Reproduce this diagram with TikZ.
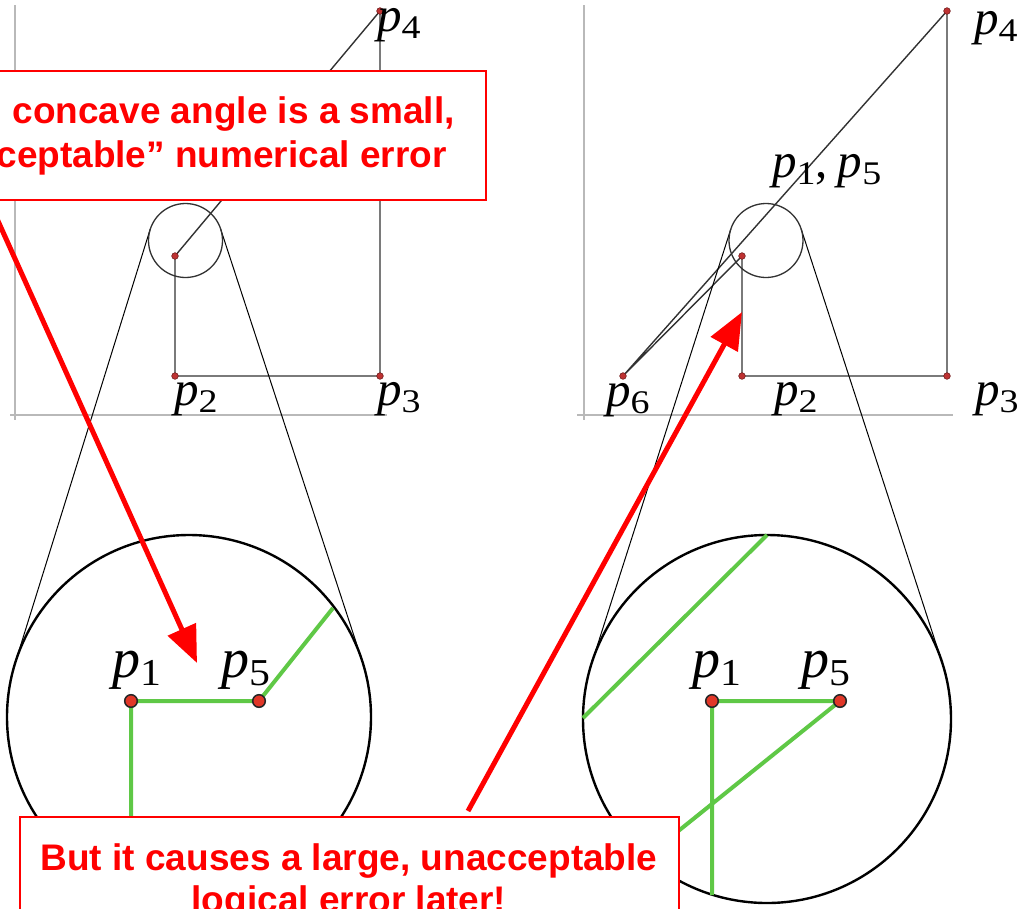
\documentclass[tikz,border=0pt]{standalone}
\usepackage{fontspec}
\setmainfont{Liberation Sans}
\newfontfamily\lblfont{Liberation Serif}
\usetikzlibrary{arrows.meta}
\definecolor{axisgray}{RGB}{185,185,185}
\definecolor{edgegray}{RGB}{50,50,50}
\definecolor{okgreen}{RGB}{95,200,70}
\definecolor{dotred}{RGB}{225,55,40}
\definecolor{smalldot}{RGB}{190,50,50}
\definecolor{calloutred}{RGB}{255,0,0}
\newcommand\toplab[1]{{\fontsize{49}{49}\selectfont\lblfont\itshape p}\raisebox{-7pt}{\scalebox{1.15}[1]{\fontsize{33}{33}\selectfont\lblfont #1}}}
\newcommand\biglab[1]{{\fontsize{56}{56}\selectfont\lblfont\itshape p}\raisebox{-8pt}{\scalebox{1.1}[1]{\fontsize{38}{38}\selectfont\lblfont #1}}}
\begin{document}
\begin{tikzpicture}[x=1pt,y=-1pt,
  axis/.style={draw=axisgray, line width=1.8pt},
  edge/.style={draw=edgegray, line width=1.4pt},
  tangent/.style={draw=black, line width=1pt},
  lens/.style={draw=edgegray, line width=1.3pt},
  zoomcircle/.style={draw=black, line width=2.4pt},
  greenseg/.style={draw=okgreen, line width=4pt},
  smallpt/.style={fill=smalldot, draw=smalldot!60!black, line width=0.6pt},
  bigpt/.style={fill=dotred, draw=black!85, line width=1.5pt},
  lbl/.style={inner sep=0pt, anchor=base west},
  callout/.style={draw=calloutred, line width=2pt, fill=white},
  callouttext/.style={text=calloutred, font=\bfseries\fontsize{37}{42}\selectfont, inner sep=0pt},
  redarrow/.style={draw=calloutred, line width=5pt, -{Triangle[length=37pt,width=30pt]}}]
\useasboundingbox (0,0) rectangle (1023,908);
\clip (0,0) rectangle (1023,908);

% ---------- left panel (top) ----------
\coordinate (La) at (15,5);   \coordinate (Lb) at (15,420);
\coordinate (Lc) at (10,415); \coordinate (Ld) at (387,415);
\draw[axis] (La) -- (Lb);
\draw[axis] (Lc) -- (Ld);
\coordinate (L1) at (175,256);
\coordinate (L2) at (175,376);
\coordinate (L3) at (380,376);
\coordinate (L4) at (380,11);
\draw[edge] (L1) -- (L2) -- (L3) -- (L4) -- (L1);

% lens and tangents (left)
\coordinate (LS) at (185.5,240.5);
\coordinate (LB) at (189,717);
\coordinate (LtA) at (150.2,229.2); \coordinate (LtB) at (15.6,661.6);
\coordinate (LtC) at (220.7,229.2); \coordinate (LtD) at (362.4,661.6);
\draw[tangent] (LtA) -- (LtB);
\draw[tangent] (LtC) -- (LtD);
\draw[lens] (LS) circle[radius=37pt];
\draw[zoomcircle] (LB) circle[radius=182pt];

\filldraw[smallpt] (L1) circle[radius=3.3pt];
\filldraw[smallpt] (L2) circle[radius=3.3pt];
\filldraw[smallpt] (L3) circle[radius=3.3pt];
\filldraw[smallpt] (L4) circle[radius=3.3pt];

\node[lbl] (lp4) at (377,31) {\toplab{4}};
\node[lbl] (lp2) at (174,405) {\toplab{2}};
\node[lbl] (lp3) at (377,405) {\toplab{3}};

% zoomed view (left)
\coordinate (Z1) at (131,701);
\coordinate (Z5) at (259,701);
\coordinate (Zu) at (333,608);
\coordinate (Zd) at (131,900);
\draw[greenseg] (Zd) -- (Z1) -- (Z5) -- (Zu);
\filldraw[bigpt] (Z1) circle[radius=6.3pt];
\filldraw[bigpt] (Z5) circle[radius=6.3pt];
\node[lbl] (zp1) at (112,677) {\biglab{1}};
\node[lbl] (zp5) at (221,677) {\biglab{5}};

% ---------- right panel (top) ----------
\coordinate (Ra) at (584,5);   \coordinate (Rb) at (584,420);
\coordinate (Rc) at (577,415); \coordinate (Rd) at (953,415);
\draw[axis] (Ra) -- (Rb);
\draw[axis] (Rc) -- (Rd);
\coordinate (R1) at (742,256);
\coordinate (R2) at (742,376);
\coordinate (R3) at (947,376);
\coordinate (R4) at (947,11);
\coordinate (R6) at (623,376);
\draw[edge] (R1) -- (R2) -- (R3) -- (R4) -- (R6) -- (R1);

\coordinate (RS) at (766,240.5);
\coordinate (RB) at (767,719);
\coordinate (RtA) at (730.8,229.1); \coordinate (RtB) at (591.9,662.5);
\coordinate (RtC) at (801.2,229.1); \coordinate (RtD) at (942.1,662.5);
\draw[tangent] (RtA) -- (RtB);
\draw[tangent] (RtC) -- (RtD);
\draw[lens] (RS) circle[radius=37pt];
\draw[zoomcircle] (RB) circle[radius=184pt];

\filldraw[smallpt] (R1) circle[radius=3.3pt];
\filldraw[smallpt] (R2) circle[radius=3.3pt];
\filldraw[smallpt] (R3) circle[radius=3.3pt];
\filldraw[smallpt] (R4) circle[radius=3.3pt];
\filldraw[smallpt] (R6) circle[radius=3.3pt];

\node[lbl] (rp4) at (974,34) {\toplab{4}};
\node[lbl] (rp3) at (975,405) {\toplab{3}};
\node[lbl] (rp2) at (774,405) {\toplab{2}};
\node[lbl] (rp6) at (606,406) {\toplab{6}};
\node[lbl] (rp15) at (772,177) {\toplab{1}{\fontsize{49}{49}\selectfont\lblfont ,\hspace{10pt}}\toplab{5}};

% zoomed view (right)
\coordinate (W1) at (712,701);
\coordinate (W5) at (840,701);
\coordinate (Wd) at (712,895);
\coordinate (Wl) at (646,857);
\coordinate (Wa) at (583,718);
\coordinate (Wb) at (767,535);
\draw[greenseg] (Wa) -- (Wb);
\draw[greenseg] (Wd) -- (W1) -- (W5) -- (Wl);
\filldraw[bigpt] (W1) circle[radius=6.3pt];
\filldraw[bigpt] (W5) circle[radius=6.3pt];
\node[lbl] (wp1) at (692,677) {\biglab{1}};
\node[lbl] (wp5) at (801,677) {\biglab{5}};

% ---------- callouts ----------
\coordinate (A1tail) at (-20,181);
\coordinate (A1tip) at (197,663);
\draw[redarrow] (A1tail) -- (A1tip);

\node[callout, anchor=north west, minimum width=495pt, minimum height=129pt, inner sep=0pt] (topbox) at (-10,70) {};
\node[callouttext, anchor=base east] (t1) at (455,123) {concave angle is a small,};
\node[callouttext, anchor=base east] (t2) at (447,167) {ceptable” numerical error};

\coordinate (A2tail) at (468,811);
\coordinate (A2tip) at (742,312);
\draw[redarrow] (A2tail) -- (A2tip);

\node[callout, anchor=north west, minimum width=659pt, minimum height=120pt, inner sep=0pt] (botbox) at (19,816) {};
\node[callouttext, anchor=base] (b1) at (349,870) {But it causes a large, unacceptable};
\node[callouttext, anchor=base] (b2) at (349,912) {logical error later!};
\end{tikzpicture}
\end{document}
